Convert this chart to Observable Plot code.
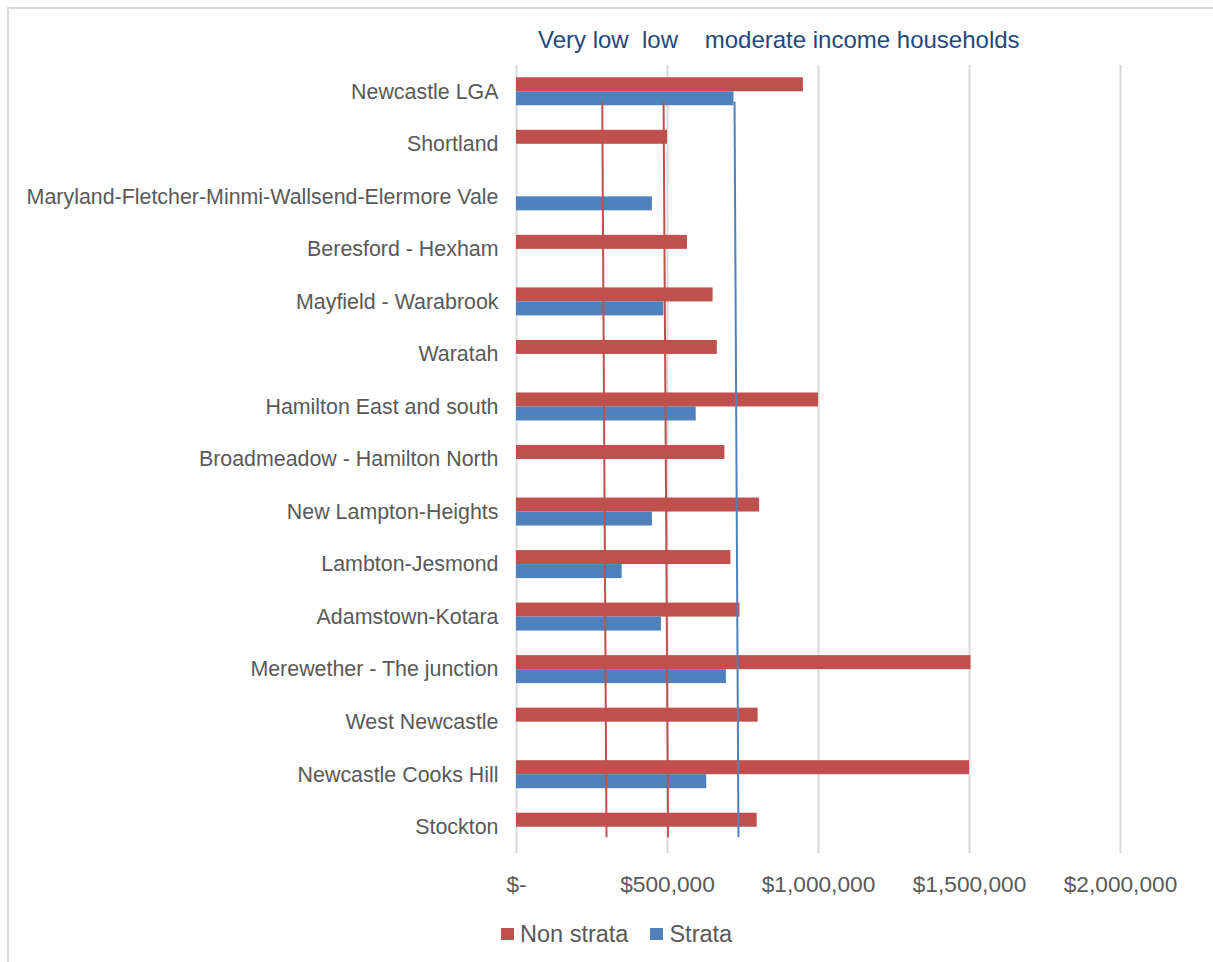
<!DOCTYPE html>
<html>
<head>
<meta charset="utf-8">
<script src="https://cdn.jsdelivr.net/npm/d3@7"></script>
<script src="https://cdn.jsdelivr.net/npm/@observablehq/plot@0.6"></script>
<style>
  html, body { margin: 0; padding: 0; background: #fff; overflow: hidden; }
  body { width: 1213px; height: 962px; position: relative; font-family: "Liberation Sans", Arial, sans-serif; }
  #frame { position: absolute; left: 7px; top: 7px; width: 1400px; height: 1200px; border-left: 2px solid #d9d9d9; border-top: 2px solid #d9d9d9; box-sizing: border-box; }
  #title { position: absolute; left: 538px; top: 27px; font-size: 24px; line-height: 26px; color: #1F497D; white-space: pre; }
  #chart { position: absolute; left: 0; top: 60px; }
  #legend { position: absolute; left: 501px; top: 920px; display: flex; align-items: center; font-size: 23.5px; color: #595959; line-height: 28px; }
  #legend .item { display: flex; align-items: center; margin-right: 22px; }
  #legend .sw { width: 13px; height: 12px; margin-right: 6px; }
</style>
</head>
<body>
<div id="frame"></div>
<div id="title"></div>
<div id="chart"></div>
<div id="legend"></div>
<script>
// ---- data ----
const titleText = "Very low  low    moderate income households";
const categories = [
  "Newcastle LGA",
  "Shortland",
  "Maryland-Fletcher-Minmi-Wallsend-Elermore Vale",
  "Beresford - Hexham",
  "Mayfield - Warabrook",
  "Waratah",
  "Hamilton East and south",
  "Broadmeadow - Hamilton North",
  "New Lampton-Heights",
  "Lambton-Jesmond",
  "Adamstown-Kotara",
  "Merewether - The junction",
  "West Newcastle",
  "Newcastle Cooks Hill",
  "Stockton"
];
const seriesNames = ["Non strata", "Strata"];
const nonStrata = [950000, 500000, null, 566000, 651000, 665000, 1000000, 690000, 805000, 710000, 740000, 1505000, 800000, 1500000, 797000];
const strata    = [720000, null, 450000, null, 488000, null, 595000, null, 450000, 350000, 480000, 695000, null, 630000, null];
const thresholdNames = ["Very low", "Low", "Moderate"];
const thresholdStart = [284000, 487000, 722000];
const thresholdEnd   = [298000, 502000, 735000];
const xTicks = [0, 500000, 1000000, 1500000, 2000000];

// ---- styles ----
const seriesColors = ["#C0504D", "#4F81BD"];
const thresholdColors = {"Very low": "#C0504D", "Low": "#C0504D", "Moderate": "#4F81BD"};

// ---- tables ----
const rows = [];
categories.forEach((c, i) => {
  if (nonStrata[i] != null) rows.push({category: c, series: seriesNames[0], value: nonStrata[i]});
  if (strata[i] != null) rows.push({category: c, series: seriesNames[1], value: strata[i]});
});
const thresholds = thresholdNames.map((n, i) => ({name: n, start: thresholdStart[i], end: thresholdEnd[i]}));

const fmt = v => v === 0 ? "$-" : "$" + d3.format(",")(v);

document.getElementById("title").textContent = titleText;

const chart = Plot.plot({
  width: 1213,
  height: 840,
  marginLeft: 516,
  marginRight: 93,
  marginTop: 5,
  marginBottom: 47,
  style: {fontFamily: '"Liberation Sans", Arial, sans-serif', fontSize: "21px", color: "#595959", background: "transparent", overflow: "visible"},
  x: {domain: [0, 2000000]},
  y: {domain: categories, paddingInner: 0.467, paddingOuter: 0.2335, align: 0.5, round: false},
  color: {domain: seriesNames, range: seriesColors},
  marks: [
    Plot.gridX(xTicks, {stroke: "#d9d9d9", strokeOpacity: 1, strokeWidth: 2}),
    Plot.barX(rows.filter(d => d.series === seriesNames[0]), {x: "value", y: "category", fill: "series", insetBottom: 14}),
    Plot.barX(rows.filter(d => d.series === seriesNames[1]), {x: "value", y: "category", fill: "series", insetTop: 14}),
    Plot.link(thresholds, {
      x1: "start", x2: "end",
      y1: () => categories[0], y2: () => categories[categories.length - 1],
      stroke: d => thresholdColors[d.name], strokeWidth: 2, dy: 10
    }),
    Plot.axisY({tickSize: 0, tickPadding: 18, label: null, fontSize: 21.4, fill: "#595959"}),
    Plot.axisX(xTicks, {tickSize: 0, tickPadding: 22, label: null, tickFormat: fmt, fontSize: 22.7, fill: "#595959"})
  ]
});
document.getElementById("chart").appendChild(chart);

const legend = document.getElementById("legend");
seriesNames.forEach((n, i) => {
  const item = document.createElement("div");
  item.className = "item";
  const sw = document.createElement("div");
  sw.className = "sw";
  sw.style.background = seriesColors[i];
  const t = document.createElement("span");
  t.textContent = n;
  item.appendChild(sw);
  item.appendChild(t);
  legend.appendChild(item);
});
</script>
</body>
</html>
